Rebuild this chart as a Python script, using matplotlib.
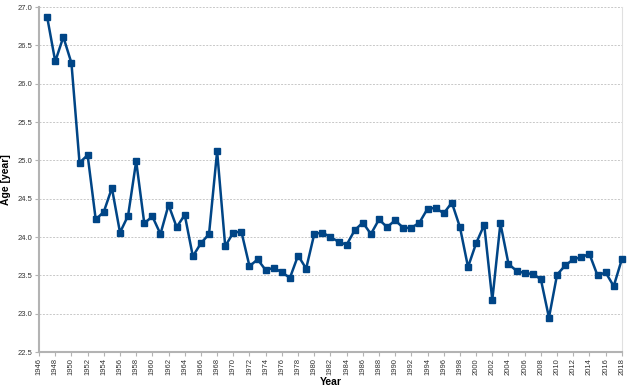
import matplotlib
matplotlib.use("Agg")
import matplotlib.pyplot as plt

years = list(range(1947, 2019))
ages = [26.87, 26.29, 26.61, 26.27, 24.97, 25.07, 24.23, 24.33, 24.64, 24.06,
        24.28, 24.99, 24.18, 24.27, 24.04, 24.42, 24.13, 24.29, 23.75, 23.92,
        24.04, 25.12, 23.88, 24.06, 24.07, 23.62, 23.71, 23.57, 23.60, 23.54,
        23.47, 23.76, 23.59, 24.04, 24.06, 24.00, 23.94, 23.90, 24.09, 24.19,
        24.04, 24.23, 24.13, 24.22, 24.12, 24.12, 24.19, 24.37, 24.38, 24.31,
        24.45, 24.13, 23.61, 23.92, 24.16, 23.18, 24.18, 23.65, 23.56, 23.53,
        23.52, 23.45, 22.95, 23.51, 23.63, 23.71, 23.74, 23.78, 23.50, 23.54,
        23.36, 23.71]
xticks = list(range(1946, 2019, 2))
yticks = [22.5, 23.0, 23.5, 24.0, 24.5, 25.0, 25.5, 26.0, 26.5, 27.0]

fig = plt.figure(figsize=(6.3, 3.9), dpi=100)
ax = fig.add_axes([0.062, 0.097, 0.925, 0.885])

ax.plot(years, ages, color="#004586", linewidth=1.8, marker="s", markersize=5,
        clip_on=False, zorder=3)

ax.set_xlim(1946, 2018)
ax.set_ylim(22.5, 27.0)
ax.set_xticks(xticks)
ax.set_xticklabels([str(x) for x in xticks], rotation=90, fontsize=5.5,
                   family="Liberation Sans", color="#333333")
ax.set_yticks(yticks)
ax.set_yticklabels([f"{v:.1f}" for v in yticks], fontsize=5.5,
                   family="Liberation Sans", color="#333333")

ax.grid(axis="y", color="#c8c8c8", linestyle=(0, (2, 1.5)), linewidth=0.7)
ax.set_axisbelow(True)

for s in ["left", "bottom"]:
    ax.spines[s].set_color("#b3b3b3")
    ax.spines[s].set_linewidth(1.5)
ax.spines["top"].set_visible(False)
ax.spines["right"].set_color("#e0e0e0")
ax.spines["right"].set_linewidth(0.8)
ax.tick_params(axis="both", length=3, width=0.8, color="#b3b3b3", pad=1.5)

ax.set_xlabel("Year", fontsize=7.5, fontweight="bold", family="Liberation Sans",
              labelpad=1)
ax.set_ylabel("Age [year]", fontsize=7.5, fontweight="bold",
              family="Liberation Sans", labelpad=5)

fig.savefig("out.png", dpi=100)
